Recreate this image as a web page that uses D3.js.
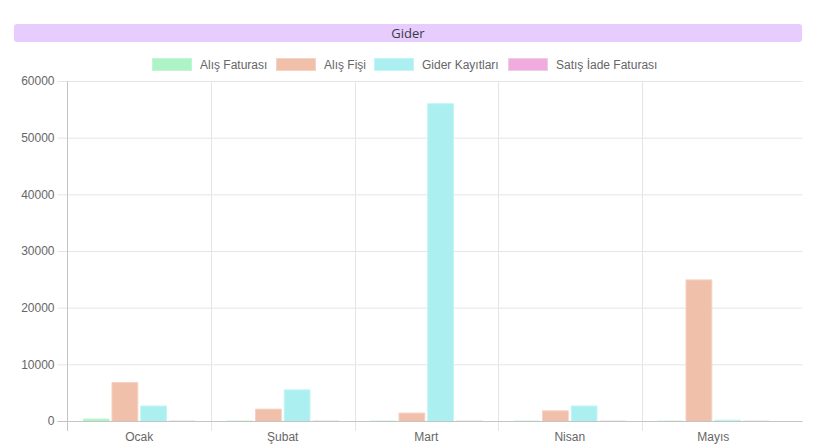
<!DOCTYPE html>
<html><head><meta charset="utf-8">
<script src="https://cdn.jsdelivr.net/npm/d3@7/dist/d3.min.js"></script>
<style>body{margin:0;background:#fff;}svg{display:block;font-family:"Liberation Sans",Arial,sans-serif;}</style>
</head><body><svg id="c" width="818" height="445"></svg>
<script>
const title = "Gider";
const categories = ["Ocak", "Şubat", "Mart", "Nisan", "Mayıs"];
const seriesNames = ["Alış Faturası", "Alış Fişi", "Gider Kayıtları", "Satış İade Faturası"];
const alisFaturasi = [350, 0, 0, 0, 0];
const alisFisi = [6800, 2100, 1400, 1800, 24900];
const giderKayitlari = [2650, 5500, 56000, 2650, 150];
const satisIade = [0, 0, 0, 0, 0];
const yTicks = [0, 10000, 20000, 30000, 40000, 50000, 60000];
const fills = ["#aef3c5", "#f0c0ab", "#abeff0", "#f1abde"];
const strokes = ["#c2f6d3", "#f5d2c3", "#c4f5f6", "#e9d0e4"];

const series = [alisFaturasi, alisFisi, giderKayitlari, satisIade];
const svg = d3.select("#c");
const pLeft = 67.5, pRight = 802.5, pTop = 81, pBottom = 421;
const catRight = 785;

// title bar
svg.append("rect").attr("x", 14).attr("y", 24).attr("width", 788).attr("height", 18)
  .attr("rx", 3).attr("fill", "#e7cdfe");
svg.append("text").attr("x", 408).attr("y", 37.5).attr("text-anchor", "middle")
  .attr("font-family", "'Open Sans', sans-serif")
  .attr("font-size", 13).attr("fill", "#3a3a4a").text(title);

// legend
const legendX = [152, 276, 374, 508];
seriesNames.forEach((n, i) => {
  svg.append("rect").attr("x", legendX[i] + 0.5).attr("y", 58.5).attr("width", 39).attr("height", 12)
    .attr("fill", fills[i]).attr("stroke", strokes[i]);
  svg.append("text").attr("x", legendX[i] + 48).attr("y", 68.5).attr("font-size", 12)
    .attr("fill", "#666").text(n);
});

const y = d3.scaleLinear().domain([0, 60000]).range([pBottom, pTop]);
const x0 = d3.scaleBand().domain(categories).range([pLeft, catRight]).paddingInner(0).paddingOuter(0);
const x1 = d3.scaleBand().domain(d3.range(4)).range([x0.bandwidth() * 0.1, x0.bandwidth() * 0.9]);

// horizontal grid
const yAxis = d3.axisLeft(y).tickValues(yTicks).tickSize(10).tickPadding(3).tickFormat(d3.format("d"));
const gy = svg.append("g").attr("transform", `translate(${pLeft},0)`).call(yAxis);
gy.select(".domain").remove();
gy.selectAll(".tick line").attr("stroke", "#e5e5e5").attr("x2", pRight - pLeft).attr("x1", -10);
gy.selectAll(".tick text").attr("fill", "#666").attr("font-size", 12).attr("font-family", "Liberation Sans, Arial, sans-serif");

// vertical grid (category boundaries)
categories.slice(1).forEach(c => {
  svg.append("line").attr("x1", Math.round(x0(c)) + 0.5).attr("x2", Math.round(x0(c)) + 0.5)
    .attr("y1", pTop).attr("y2", pBottom + 10).attr("stroke", "#e5e5e5");
});
// y axis line
svg.append("line").attr("x1", pLeft).attr("x2", pLeft).attr("y1", pTop).attr("y2", pBottom + 10).attr("stroke", "#c4c4c4");

// bars
categories.forEach((c, ci) => {
  series.forEach((s, si) => {
    const bw = x1.bandwidth() * 0.9;
    const bx = x0(c) + x1(si) + (x1.bandwidth() - bw) / 2;
    const v = s[ci];
    const yt = y(v);
    svg.append("rect").attr("x", bx).attr("y", yt).attr("width", bw).attr("height", y(0) - yt)
      .attr("fill", fills[si]);
    svg.append("path").attr("d", `M${bx},${y(0)}V${yt}H${bx + bw}V${y(0)}`)
      .attr("fill", "none").attr("stroke", strokes[si]).attr("stroke-width", 1);
  });
});

// zero line
svg.append("line").attr("x1", pLeft - 10).attr("x2", pRight).attr("y1", pBottom + 0.5).attr("y2", pBottom + 0.5).attr("stroke", "#c4c4c4");

// x labels
categories.forEach(c => {
  svg.append("text").attr("x", x0(c) + x0.bandwidth() / 2).attr("y", 441).attr("text-anchor", "middle")
    .attr("font-size", 12).attr("fill", "#666").text(c);
});
</script></body></html>
